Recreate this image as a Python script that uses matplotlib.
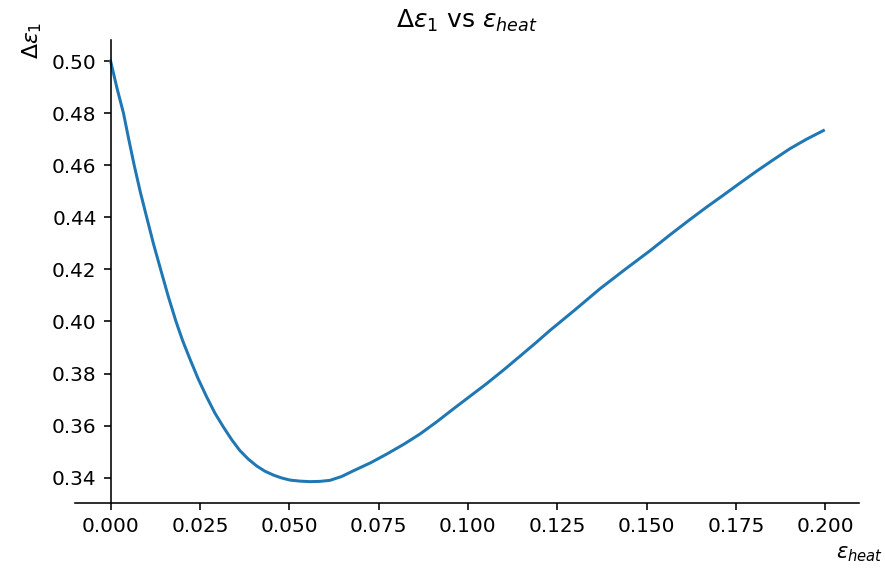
import numpy as np
import matplotlib
matplotlib.use("Agg")
import matplotlib.pyplot as plt

# values
eps_heat = [0.0000, 0.0018, 0.0036, 0.0051, 0.0066, 0.0083, 0.0101, 0.0120,
            0.0140, 0.0161, 0.0183, 0.0202, 0.0222, 0.0245, 0.0269, 0.0292,
            0.0316, 0.0339, 0.0362, 0.0385, 0.0409, 0.0432, 0.0456, 0.0479,
            0.0502, 0.0530, 0.0558, 0.0586, 0.0614, 0.0647, 0.0680, 0.0727,
            0.0773, 0.0820, 0.0866, 0.0913, 0.0960, 0.1006, 0.1053, 0.1100,
            0.1146, 0.1190, 0.1230, 0.1300, 0.1370, 0.1440, 0.1510, 0.1566,
            0.1622, 0.1669, 0.1716, 0.1763, 0.1809, 0.1856, 0.1902, 0.1948,
            0.1995]
d_eps1 = [0.5000, 0.4895, 0.4800, 0.4698, 0.4600, 0.4498, 0.4400, 0.4298,
          0.4200, 0.4098, 0.4000, 0.3925, 0.3856, 0.3780, 0.3710, 0.3648,
          0.3594, 0.3546, 0.3504, 0.3472, 0.3445, 0.3425, 0.3410, 0.3399,
          0.3391, 0.3387, 0.3385, 0.3386, 0.3390, 0.3405, 0.3427, 0.3457,
          0.3491, 0.3528, 0.3568, 0.3615, 0.3665, 0.3713, 0.3762, 0.3814,
          0.3867, 0.3918, 0.3966, 0.4045, 0.4126, 0.4200, 0.4272, 0.4333,
          0.4392, 0.4440, 0.4486, 0.4533, 0.4578, 0.4622, 0.4664, 0.4700,
          0.4733]

fig = plt.figure(figsize=(885 / 144, 576 / 144), dpi=144)
ax = fig.add_axes([0.0847, 0.1273, 0.886, 0.8033])

ax.plot(eps_heat, d_eps1, color="#1f77b4", lw=1.5)

ax.spines["right"].set_visible(False)
ax.spines["top"].set_visible(False)
ax.spines["left"].set_position(("data", 0))

ax.set_title(r"$\Delta\varepsilon_1$ vs $\varepsilon_{heat}$", fontsize=12.5)
ax.set_xlabel(r"$\varepsilon_{heat}$", x=1.0, fontsize=10.5)
ax.set_ylabel(r"$\Delta\varepsilon_1$", y=1.0, fontsize=11)
ax.tick_params(labelsize=10)

fig.savefig("out.png", dpi=144)
